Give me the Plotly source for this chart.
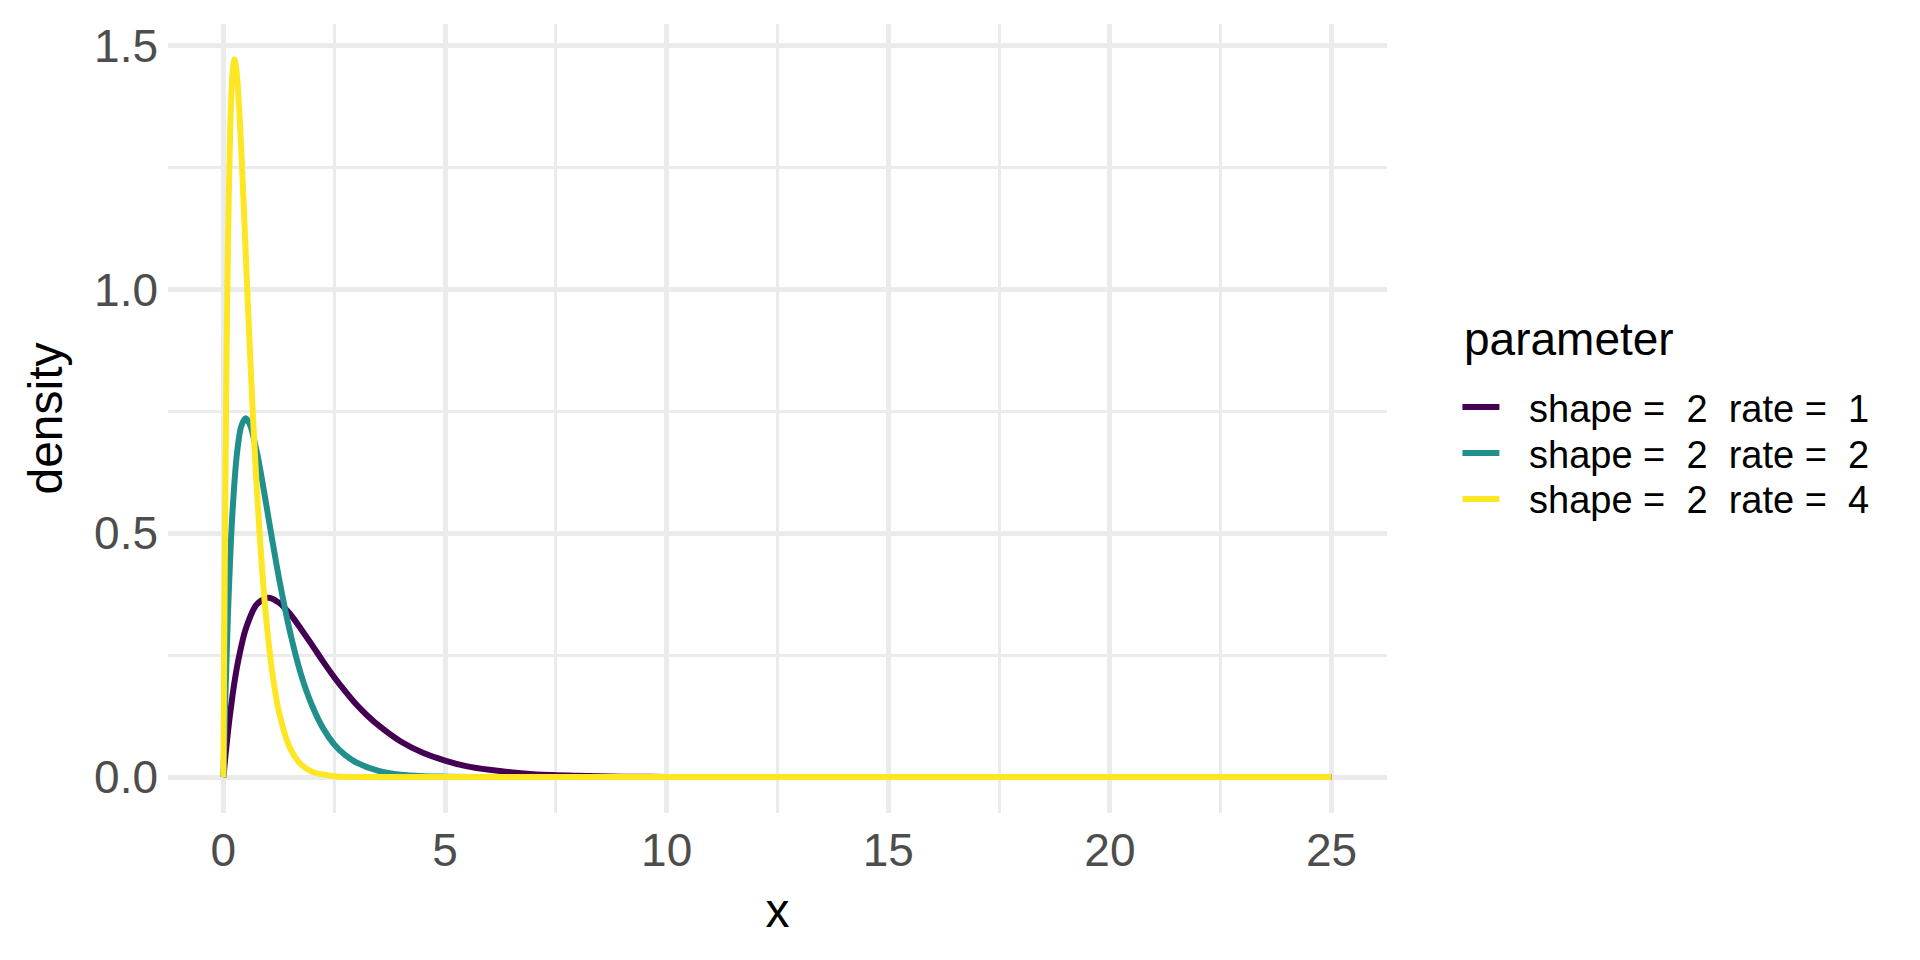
import plotly.graph_objects as go

# Values
x_rate1 = [0, 0.05, 0.1, 0.15, 0.25, 0.35, 0.5, 0.75, 1, 1.25, 1.5, 1.75, 2, 2.25, 2.5, 2.75, 3,
           3.25, 3.5, 4, 4.5, 5, 5.5, 6, 7, 8, 9, 10, 12, 15, 20, 25]
y_rate1 = [0, 0.048, 0.090, 0.129, 0.195, 0.246, 0.303, 0.354, 0.368, 0.358, 0.335, 0.304, 0.271,
           0.237, 0.205, 0.176, 0.149, 0.126, 0.106, 0.073, 0.050, 0.034, 0.022, 0.015, 0.006,
           0.003, 0.001, 0.0005, 0.0001, 0, 0, 0]

x_rate2 = [0, 0.025, 0.05, 0.1, 0.15, 0.2, 0.3, 0.4, 0.5, 0.6, 0.75, 0.875, 1, 1.125, 1.25, 1.5,
           1.75, 2, 2.25, 2.5, 2.75, 3, 3.5, 4, 4.5, 5, 6, 8, 25]
y_rate2 = [0, 0.095, 0.181, 0.327, 0.444, 0.536, 0.659, 0.719, 0.736, 0.723, 0.669, 0.608, 0.541,
           0.474, 0.410, 0.299, 0.211, 0.147, 0.100, 0.067, 0.045, 0.030, 0.013, 0.005, 0.002,
           0.001, 0.0001, 0, 0]

x_rate4 = [0, 0.0125, 0.025, 0.05, 0.075, 0.1, 0.15, 0.2, 0.25, 0.3, 0.35, 0.4, 0.45, 0.5, 0.55,
           0.6, 0.675, 0.75, 0.875, 1, 1.125, 1.25, 1.5, 1.75, 2, 2.5, 3, 4, 25]
y_rate4 = [0, 0.190, 0.362, 0.655, 0.889, 1.073, 1.317, 1.438, 1.472, 1.446, 1.381, 1.293, 1.190,
           1.083, 0.975, 0.871, 0.726, 0.597, 0.423, 0.293, 0.200, 0.135, 0.060, 0.026, 0.011,
           0.002, 0.0003, 0, 0]

series_names = ["shape =  2  rate =  1", "shape =  2  rate =  2", "shape =  2  rate =  4"]
series_colors = ["#440154", "#21908C", "#FDE725"]
legend_title = "parameter"

x_ticks = [0, 5, 10, 15, 20, 25]
x_ticklabels = ["0", "5", "10", "15", "20", "25"]
y_ticks = [0.0, 0.5, 1.0, 1.5]
y_ticklabels = ["0.0", "0.5", "1.0", "1.5"]

FONT = "Liberation Sans, Arial, Helvetica, sans-serif"
GRID = "#EBEBEB"

W, H = 1920, 960
BODY = 8  # page body margin offset
# desired plot panel in page pixels
PL, PR, PT, PB = 167.5, 1387.5, 23.5, 813.4
PW, PH = PR - PL, PB - PT


def px_x(px):
    return (px - PL) / PW


def px_y(py):
    return (PB - py) / PH


fig = go.Figure()
for xs, ys, name, col in zip([x_rate1, x_rate2, x_rate4], [y_rate1, y_rate2, y_rate4],
                             series_names, series_colors):
    fig.add_trace(go.Scatter(x=xs, y=ys, mode="lines", name=name, showlegend=False,
                             line=dict(color=col, width=6, shape="spline", smoothing=0.8)))

# legend (drawn as shapes + text)
annotations = [dict(text=legend_title, xref="paper", yref="paper", x=px_x(1463), y=px_y(339),
                    xanchor="left", yanchor="middle", showarrow=False,
                    font=dict(size=46, family=FONT, color="black"))]
shapes = []
row_y = [407, 453, 499]
for name, col, ry in zip(series_names, series_colors, row_y):
    shapes.append(dict(type="line", xref="paper", yref="paper",
                       x0=px_x(1463), x1=px_x(1500), y0=px_y(ry), y1=px_y(ry),
                       line=dict(color=col, width=6)))
    annotations.append(dict(text=name, xref="paper", yref="paper", x=px_x(1528), y=px_y(ry + 1.5),
                            xanchor="left", yanchor="middle", showarrow=False,
                            font=dict(size=38, family=FONT, color="black")))

fig.update_layout(
    width=W, height=H,
    margin=dict(l=PL - BODY, r=W - PR + BODY, t=PT - BODY, b=H - PB + BODY, autoexpand=False),
    paper_bgcolor="white", plot_bgcolor="white",
    font=dict(family=FONT, color="black"),
    showlegend=False,
    annotations=annotations,
    shapes=shapes,
    xaxis=dict(
        range=[-1.25, 26.25], tickvals=x_ticks, ticktext=x_ticklabels,
        showgrid=True, gridcolor=GRID, gridwidth=5, zeroline=False, showline=False,
        ticks="", ticklabelstandoff=6,
        tickfont=dict(size=46, family=FONT, color="#4D4D4D"),
        minor=dict(tickvals=[2.5, 7.5, 12.5, 17.5, 22.5], showgrid=True, gridcolor=GRID, gridwidth=2.5),
        title=dict(text="x", font=dict(size=48, family=FONT, color="black"), standoff=18),
    ),
    yaxis=dict(
        range=[-0.0736, 1.545], tickvals=y_ticks, ticktext=y_ticklabels,
        showgrid=True, gridcolor=GRID, gridwidth=5, zeroline=False, showline=False,
        ticks="", ticklabelstandoff=9,
        tickfont=dict(size=46, family=FONT, color="#4D4D4D"),
        minor=dict(tickvals=[0.25, 0.75, 1.25], showgrid=True, gridcolor=GRID, gridwidth=2.5),
        title=dict(text="density", font=dict(size=48, family=FONT, color="black"), standoff=16),
    ),
)

fig.write_html("out.html")
